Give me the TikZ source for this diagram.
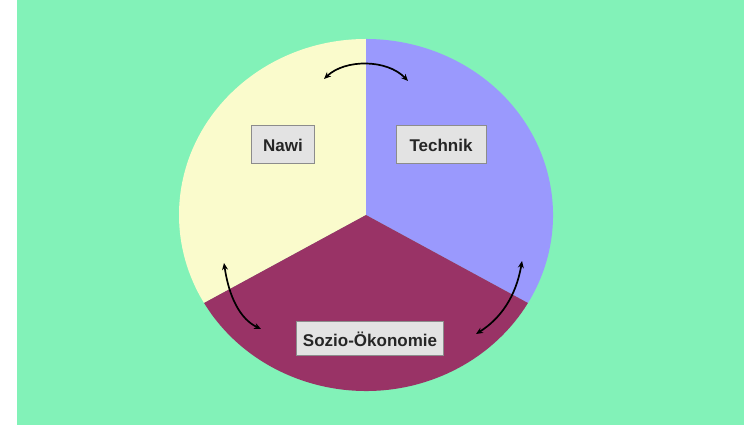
\documentclass[tikz,border=0pt]{standalone}
\usepackage{fontspec}
\setmainfont{Liberation Sans}
\usetikzlibrary{arrows.meta}

\definecolor{bggreen}{HTML}{82F2B8}
\definecolor{nawiyellow}{HTML}{FAFBCC}
\definecolor{techblue}{HTML}{9A99FD}
\definecolor{sozired}{HTML}{993366}
\definecolor{labelgray}{HTML}{E3E3E3}

\begin{document}
\begin{tikzpicture}[
				x=1pt, y=1pt,
				every node/.style={draw=gray!90, fill=labelgray, rectangle, line width=1pt, inner sep=0pt, font=\bfseries\fontsize{17}{17}\selectfont, text=black!85},
				slice/.style={x radius=187, y radius=176},
				cyclearrow/.style={draw, line width=1.7pt, {Stealth[length=7pt,width=6pt]}-{Stealth[length=7pt,width=6pt]}}
				]
				
				\useasboundingbox (0,0) rectangle (744,425);
				\fill[bggreen] (17,0) rectangle (744,425);
				
				% pie in three parts
				\coordinate (mid) at (366,210);
				\fill[nawiyellow] (mid) -- +(90:187pt and 176pt) arc[start angle=90, end angle=210, slice] -- cycle;
				\fill[techblue] (mid) -- +(-30:187pt and 176pt) arc[start angle=-30, end angle=90, slice] -- cycle;
				\fill[sozired] (mid) -- +(210:187pt and 176pt) arc[start angle=210, end angle=330, slice] -- cycle;
				
				\node[minimum width=63, minimum height=38] (nawi) at (283,280) {Nawi};
				\node[minimum width=90, minimum height=38] (technik) at (441,280) {Technik};
				\node[minimum width=147, minimum height=34] (sozio) at (370,86) {Sozio-Ökonomie};
				
				% arrows between the parts
				\coordinate (top-l) at (324,346);
				\coordinate (top-r) at (408,344);
				\coordinate (left-t) at (224,162);
				\coordinate (left-b) at (261,96);
				\coordinate (right-t) at (522,164);
				\coordinate (right-b) at (476,91);
				
				\draw[cyclearrow] (top-l) .. controls (345,366) and (387,366) .. (top-r);
				\draw[cyclearrow] (left-t) .. controls (229,128) and (240,106) .. (left-b);
				\draw[cyclearrow] (right-t) .. controls (516,128) and (500,106) .. (right-b);
				
			\end{tikzpicture}
\end{document}
